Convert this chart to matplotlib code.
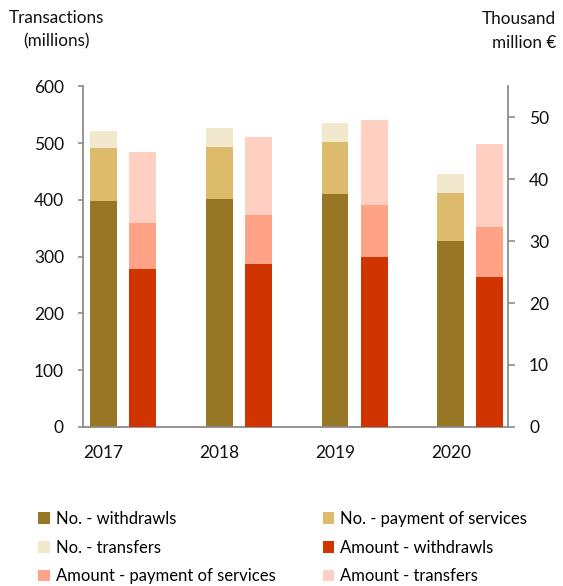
import matplotlib.pyplot as plt
import numpy as np

plt.rcParams['font.family'] = ['Lato', 'DejaVu Sans']

years = ["2017", "2018", "2019", "2020"]

# number of transactions (millions) - left axis
no_withdrawals = [398, 402, 410, 327]
no_payments = [93, 92, 92, 85]
no_transfers = [30, 32, 33, 33]

# amounts (thousand million euro) - right axis
amt_withdrawals = [25.5, 26.3, 27.4, 24.2]
amt_payments = [7.5, 7.9, 8.4, 8.1]
amt_transfers = [11.4, 12.6, 13.8, 13.4]

c_no = ["#977726", "#DDBB6D", "#F2E8CE"]
c_amt = ["#D03400", "#FFA286", "#FFD0C2"]
gray = "#8C8C8C"

fig = plt.figure(figsize=(5.63, 5.86), dpi=100)
ax = fig.add_axes([0.1469, 0.2718, 0.7559, 0.5806])
ax2 = ax.twinx()

x = np.arange(len(years))
w = 0.233
off = 0.337

b1 = ax.bar(x, no_withdrawals, w, color=c_no[0], label="No. - withdrawls")
b2 = ax.bar(x, no_payments, w, bottom=no_withdrawals, color=c_no[1],
            label="No. - payment of services")
bot = np.array(no_withdrawals) + np.array(no_payments)
b3 = ax.bar(x, no_transfers, w, bottom=bot, color=c_no[2], label="No. - transfers")

a1 = ax2.bar(x + off, amt_withdrawals, w, color=c_amt[0], label="Amount - withdrawls")
a2 = ax2.bar(x + off, amt_payments, w, bottom=amt_withdrawals, color=c_amt[1],
             label="Amount - payment of services")
bot2 = np.array(amt_withdrawals) + np.array(amt_payments)
a3 = ax2.bar(x + off, amt_transfers, w, bottom=bot2, color=c_amt[2],
             label="Amount - transfers")

ax.set_xlim(-0.18, 3.497)
ax.set_ylim(0, 600)
ax2.set_ylim(0, 55)
ax.set_yticks(range(0, 601, 100))
ax2.set_yticks(range(0, 51, 10))
ax.set_xticks(x)
ax.set_xticklabels(years)

for a in (ax, ax2):
    a.spines['top'].set_visible(False)
    for s in a.spines.values():
        s.set_color(gray)
        s.set_linewidth(1.3)
ax.spines['right'].set_visible(False)
ax2.spines['left'].set_visible(False)
ax2.spines['bottom'].set_visible(False)

ax.tick_params(axis='y', length=3.5, width=1.2, color=gray, pad=10,
               labelsize=12.5, labelcolor="#111111")
ax2.tick_params(axis='y', length=5, width=1.2, color=gray, pad=10,
                labelsize=12.5, labelcolor="#111111")
ax.tick_params(axis='x', length=0, pad=13, labelsize=12.5, labelcolor="#111111")

fig.text(56.7 / 563, 1 - 18 / 586, "Transactions", ha='center', va='center',
         fontsize=12.3, color="#111111")
fig.text(56.7 / 563, 1 - 41 / 586, "(millions)", ha='center', va='center',
         fontsize=12.3, color="#111111")
fig.text(556 / 563, 1 - 19 / 586, "Thousand", ha='right', va='center',
         fontsize=12.3, color="#111111")
fig.text(556 / 563, 1 - 43 / 586, "million €", ha='right', va='center',
         fontsize=12.3, color="#111111")

handles = [b1, b3, a2, b2, a1, a3]
labels = [h.get_label() for h in handles]
fig.legend(handles, labels, ncol=2, loc='upper left',
           bbox_to_anchor=(38 / 563, 1 - 511 / 586), frameon=False,
           fontsize=12, handlelength=0.7, handleheight=0.7,
           handletextpad=0.35, labelspacing=0.76, columnspacing=2.85,
           borderpad=0, borderaxespad=0)

fig.savefig("out.png", dpi=100)
